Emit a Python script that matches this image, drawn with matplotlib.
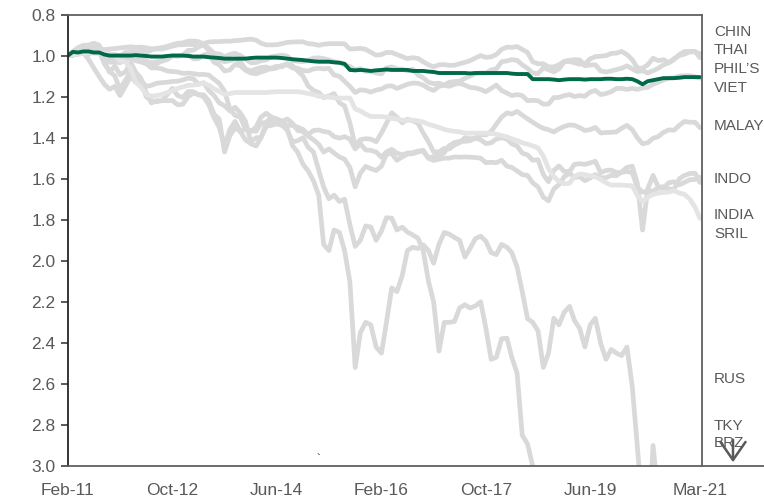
# Valutor mot USD, index Feb-11 = 1 (inverterad skala: nedåt = försvagning)
import matplotlib
matplotlib.use("Agg")
import matplotlib.pyplot as plt
import matplotlib.dates as mdates
import matplotlib.transforms as mtransforms
from matplotlib.lines import Line2D
import pandas as pd

plt.rcParams['font.family'] = ['Liberation Sans', 'DejaVu Sans']

# månadsdata Feb-11 .. Mar-21
dates = pd.date_range("2011-02-01", "2021-03-01", freq="MS")

# en rad per kalenderår (2011 börjar i feb, 2021 slutar i mars)
chin = [1.000, 0.997, 0.994, 0.988, 0.985, 0.982, 0.975, 0.971, 0.968, 0.966, 0.963,
        0.960, 0.957, 0.960, 0.959, 0.962, 0.967, 0.968, 0.968, 0.962, 0.954, 0.948, 0.947,
        0.945, 0.947, 0.944, 0.941, 0.934, 0.932, 0.932, 0.930, 0.930, 0.927, 0.926, 0.922,
        0.920, 0.925, 0.940, 0.948, 0.948, 0.947, 0.942, 0.936, 0.934, 0.933, 0.933, 0.942,
        0.944, 0.950, 0.945, 0.942, 0.942, 0.942, 0.943, 0.968, 0.967, 0.965, 0.970, 0.984,
        0.998, 0.995, 0.985, 0.985, 0.995, 1.005, 1.015, 1.010, 1.014, 1.030, 1.045, 1.055,
        1.045, 1.044, 1.048, 1.047, 1.040, 1.033, 1.025, 1.012, 1.000, 1.009, 1.006, 0.995,
        0.970, 0.959, 0.960, 0.956, 0.970, 0.985, 1.030, 1.040, 1.040, 1.055, 1.055, 1.045,
        1.028, 1.023, 1.020, 1.021, 1.050, 1.046, 1.045, 1.075, 1.080, 1.075, 1.068, 1.062,
        1.050, 1.065, 1.078, 1.074, 1.085, 1.074, 1.062, 1.045, 1.035, 1.015, 1.000, 0.993,
        0.982, 0.982, 0.991]
thai = [1.000, 0.990, 0.980, 0.990, 0.995, 0.975, 0.977, 1.005, 1.012, 1.010, 1.030,
        1.010, 1.000, 1.005, 1.007, 1.030, 1.035, 1.030, 1.028, 1.010, 1.003, 1.002, 0.998,
        0.975, 0.974, 0.958, 0.948, 0.975, 1.010, 1.020, 1.030, 1.025, 1.015, 1.030, 1.065,
        1.075, 1.065, 1.058, 1.056, 1.066, 1.060, 1.048, 1.045, 1.060, 1.062, 1.073, 1.075,
        1.065, 1.062, 1.065, 1.062, 1.095, 1.101, 1.125, 1.150, 1.180, 1.167, 1.170, 1.178,
        1.168, 1.163, 1.150, 1.147, 1.160, 1.150, 1.140, 1.134, 1.135, 1.144, 1.160, 1.170,
        1.150, 1.144, 1.130, 1.127, 1.125, 1.111, 1.100, 1.088, 1.085, 1.085, 1.070, 1.065,
        1.030, 1.026, 1.020, 1.023, 1.045, 1.062, 1.085, 1.088, 1.060, 1.069, 1.080, 1.065,
        1.030, 1.029, 1.035, 1.042, 1.040, 1.016, 1.005, 1.003, 1.000, 0.990, 0.988, 0.980,
        0.995, 1.020, 1.060, 1.062, 1.045, 1.013, 1.025, 1.020, 1.035, 1.020, 0.995, 0.980,
        0.980, 0.980, 1.010]
phil = [1.000, 0.995, 0.989, 0.985, 0.993, 0.975, 0.970, 0.985, 0.998, 0.995, 1.002,
        0.985, 0.979, 0.982, 0.977, 0.985, 0.973, 0.965, 0.961, 0.955, 0.947, 0.940, 0.938,
        0.930, 0.929, 0.932, 0.943, 0.965, 0.989, 0.992, 1.005, 0.995, 0.989, 1.000, 1.016,
        1.035, 1.034, 1.025, 1.021, 1.005, 1.002, 0.998, 1.002, 1.025, 1.027, 1.030, 1.023,
        1.012, 1.011, 1.015, 1.021, 1.030, 1.034, 1.045, 1.053, 1.070, 1.064, 1.077, 1.078,
        1.085, 1.089, 1.060, 1.055, 1.065, 1.066, 1.075, 1.066, 1.095, 1.108, 1.130, 1.137,
        1.135, 1.144, 1.150, 1.140, 1.135, 1.144, 1.155, 1.158, 1.165, 1.176, 1.160, 1.144,
        1.170, 1.183, 1.195, 1.190, 1.195, 1.220, 1.218, 1.220, 1.237, 1.236, 1.205, 1.204,
        1.195, 1.190, 1.200, 1.195, 1.198, 1.178, 1.170, 1.190, 1.185, 1.176, 1.160, 1.160,
        1.165, 1.160, 1.165, 1.158, 1.155, 1.140, 1.130, 1.119, 1.110, 1.108, 1.100, 1.098,
        1.098, 1.103, 1.110]
viet = [1.000, 0.982, 0.985, 0.980, 0.980, 0.985, 0.985, 0.995, 1.000, 1.000, 1.000,
        1.000, 1.000, 0.998, 1.000, 1.002, 1.005, 1.005, 1.005, 1.002, 1.000, 1.000, 1.000,
        1.002, 1.005, 1.005, 1.005, 1.008, 1.010, 1.012, 1.015, 1.015, 1.015, 1.015, 1.015,
        1.012, 1.010, 1.010, 1.010, 1.010, 1.010, 1.012, 1.015, 1.018, 1.020, 1.022, 1.025,
        1.028, 1.030, 1.030, 1.030, 1.033, 1.035, 1.040, 1.070, 1.072, 1.070, 1.072, 1.075,
        1.072, 1.070, 1.068, 1.070, 1.070, 1.070, 1.070, 1.075, 1.075, 1.075, 1.078, 1.080,
        1.085, 1.085, 1.085, 1.085, 1.085, 1.085, 1.087, 1.085, 1.085, 1.085, 1.085, 1.085,
        1.085, 1.085, 1.088, 1.090, 1.090, 1.090, 1.115, 1.115, 1.115, 1.115, 1.117, 1.120,
        1.117, 1.115, 1.115, 1.115, 1.117, 1.115, 1.115, 1.115, 1.113, 1.113, 1.115, 1.115,
        1.113, 1.115, 1.125, 1.140, 1.125, 1.120, 1.115, 1.110, 1.110, 1.110, 1.108, 1.105,
        1.105, 1.105, 1.105]
malay = [1.000, 0.993, 0.990, 0.985, 0.990, 0.980, 0.974, 1.020, 1.033, 1.030, 1.035,
         1.020, 0.990, 1.003, 1.003, 1.025, 1.039, 1.040, 1.026, 1.020, 1.000, 1.003, 1.000,
         0.995, 1.016, 1.015, 0.997, 0.990, 1.033, 1.045, 1.075, 1.070, 1.043, 1.050, 1.072,
         1.085, 1.089, 1.080, 1.072, 1.060, 1.052, 1.055, 1.039, 1.050, 1.075, 1.100, 1.148,
         1.170, 1.180, 1.205, 1.197, 1.185, 1.230, 1.245, 1.328, 1.440, 1.410, 1.405, 1.407,
         1.420, 1.377, 1.330, 1.279, 1.300, 1.328, 1.310, 1.318, 1.330, 1.377, 1.420, 1.469,
         1.470, 1.452, 1.455, 1.436, 1.425, 1.400, 1.405, 1.403, 1.385, 1.387, 1.370, 1.334,
         1.300, 1.279, 1.285, 1.272, 1.290, 1.308, 1.325, 1.341, 1.355, 1.361, 1.372, 1.357,
         1.345, 1.338, 1.340, 1.351, 1.365, 1.361, 1.350, 1.377, 1.375, 1.374, 1.372, 1.354,
         1.340, 1.361, 1.400, 1.430, 1.425, 1.403, 1.395, 1.374, 1.362, 1.364, 1.340, 1.321,
         1.325, 1.325, 1.351]
indo = [1.000, 0.985, 0.972, 0.965, 0.964, 0.960, 0.958, 0.975, 0.994, 1.010, 1.019,
        1.015, 1.011, 1.025, 1.031, 1.040, 1.060, 1.060, 1.065, 1.075, 1.078, 1.080, 1.087,
        1.085, 1.088, 1.092, 1.092, 1.095, 1.116, 1.135, 1.174, 1.260, 1.292, 1.300, 1.360,
        1.370, 1.348, 1.300, 1.281, 1.300, 1.331, 1.320, 1.309, 1.330, 1.365, 1.370, 1.393,
        1.410, 1.433, 1.470, 1.455, 1.475, 1.494, 1.505, 1.545, 1.640, 1.573, 1.540, 1.551,
        1.560, 1.539, 1.480, 1.478, 1.510, 1.494, 1.480, 1.478, 1.470, 1.461, 1.500, 1.511,
        1.505, 1.500, 1.500, 1.494, 1.495, 1.494, 1.495, 1.497, 1.500, 1.522, 1.520, 1.522,
        1.510, 1.539, 1.545, 1.562, 1.580, 1.584, 1.620, 1.640, 1.690, 1.708, 1.650, 1.629,
        1.590, 1.573, 1.595, 1.590, 1.610, 1.596, 1.580, 1.596, 1.595, 1.584, 1.585, 1.567,
        1.545, 1.539, 1.620, 1.850, 1.650, 1.584, 1.640, 1.640, 1.650, 1.652, 1.600, 1.584,
        1.575, 1.573, 1.618]
india = [1.000, 0.990, 0.976, 0.985, 0.982, 0.980, 0.978, 1.040, 1.075, 1.100, 1.165,
         1.120, 1.081, 1.110, 1.121, 1.180, 1.231, 1.220, 1.220, 1.190, 1.160, 1.195, 1.204,
         1.175, 1.176, 1.190, 1.191, 1.220, 1.286, 1.310, 1.470, 1.390, 1.352, 1.370, 1.360,
         1.365, 1.369, 1.330, 1.325, 1.300, 1.308, 1.320, 1.341, 1.340, 1.349, 1.360, 1.385,
         1.365, 1.363, 1.370, 1.374, 1.395, 1.402, 1.395, 1.407, 1.455, 1.429, 1.460, 1.462,
         1.470, 1.495, 1.470, 1.457, 1.475, 1.484, 1.475, 1.473, 1.465, 1.466, 1.500, 1.492,
         1.490, 1.473, 1.440, 1.424, 1.418, 1.418, 1.415, 1.402, 1.410, 1.429, 1.425, 1.407,
         1.400, 1.407, 1.430, 1.440, 1.475, 1.484, 1.510, 1.508, 1.580, 1.615, 1.560, 1.538,
         1.565, 1.565, 1.530, 1.527, 1.530, 1.523, 1.515, 1.571, 1.560, 1.558, 1.570, 1.569,
         1.565, 1.571, 1.640, 1.666, 1.660, 1.659, 1.645, 1.644, 1.620, 1.615, 1.630, 1.618,
         1.605, 1.604, 1.593]
sril = [1.000, 0.995, 0.991, 0.988, 0.986, 0.988, 0.991, 0.991, 0.991, 1.000, 1.027,
        1.030, 1.063, 1.130, 1.153, 1.190, 1.198, 1.195, 1.189, 1.180, 1.171, 1.160, 1.153,
        1.145, 1.144, 1.140, 1.135, 1.145, 1.162, 1.175, 1.189, 1.185, 1.180, 1.180, 1.180,
        1.180, 1.180, 1.180, 1.180, 1.178, 1.176, 1.176, 1.176, 1.176, 1.176, 1.180, 1.185,
        1.190, 1.198, 1.200, 1.203, 1.205, 1.207, 1.207, 1.207, 1.260, 1.270, 1.285, 1.297,
        1.297, 1.297, 1.300, 1.306, 1.310, 1.315, 1.315, 1.315, 1.318, 1.324, 1.335, 1.342,
        1.350, 1.360, 1.365, 1.369, 1.372, 1.378, 1.378, 1.378, 1.378, 1.378, 1.380, 1.383,
        1.390, 1.396, 1.405, 1.414, 1.425, 1.432, 1.440, 1.450, 1.490, 1.550, 1.590, 1.613,
        1.625, 1.622, 1.590, 1.577, 1.580, 1.586, 1.590, 1.604, 1.620, 1.631, 1.631, 1.631,
        1.633, 1.635, 1.680, 1.712, 1.690, 1.676, 1.670, 1.667, 1.665, 1.658, 1.670, 1.676,
        1.700, 1.739, 1.793]
tky = [1.000, 0.980, 0.962, 0.985, 1.019, 1.060, 1.101, 1.140, 1.164, 1.150, 1.195,
       1.150, 1.101, 1.130, 1.119, 1.150, 1.145, 1.135, 1.132, 1.130, 1.126, 1.125, 1.119,
       1.110, 1.113, 1.140, 1.132, 1.170, 1.195, 1.230, 1.245, 1.270, 1.252, 1.280, 1.321,
       1.420, 1.400, 1.400, 1.327, 1.315, 1.321, 1.335, 1.365, 1.420, 1.415, 1.400, 1.447,
       1.470, 1.560, 1.640, 1.698, 1.680, 1.711, 1.700, 1.824, 1.930, 1.900, 1.830, 1.836,
       1.900, 1.855, 1.790, 1.792, 1.850, 1.836, 1.860, 1.874, 1.890, 1.950, 2.100, 2.201,
       2.440, 2.300, 2.300, 2.296, 2.230, 2.214, 2.230, 2.220, 2.200, 2.327, 2.480, 2.470,
       2.380, 2.377, 2.470, 2.547, 2.850, 2.893, 3.000, 3.770, 3.900, 3.650, 3.400, 3.330,
       3.350, 3.300, 3.450, 3.580, 3.800, 3.650, 3.550, 3.520, 3.580, 3.680, 3.620, 3.710,
       3.740, 3.840, 4.000, 4.340, 4.400, 4.310, 4.300, 4.590, 4.750, 4.970, 5.000, 4.780,
       4.630, 4.470, 4.970]
brz = [1.000, 1.000, 0.961, 0.950, 0.949, 0.940, 0.949, 1.030, 1.081, 1.050, 1.093,
       1.080, 1.033, 1.080, 1.111, 1.200, 1.219, 1.225, 1.219, 1.220, 1.219, 1.240, 1.237,
       1.200, 1.183, 1.190, 1.201, 1.240, 1.303, 1.350, 1.441, 1.360, 1.321, 1.370, 1.411,
       1.430, 1.441, 1.400, 1.345, 1.340, 1.333, 1.340, 1.357, 1.440, 1.471, 1.530, 1.562,
       1.610, 1.682, 1.920, 1.950, 1.850, 1.862, 1.950, 2.102, 2.520, 2.350, 2.300, 2.312,
       2.420, 2.450, 2.300, 2.132, 2.150, 2.072, 1.950, 1.934, 1.940, 1.922, 1.950, 2.012,
       1.920, 1.862, 1.870, 1.886, 1.900, 1.982, 1.940, 1.892, 1.880, 1.904, 1.960, 1.970,
       1.920, 1.934, 1.960, 2.030, 2.150, 2.282, 2.300, 2.342, 2.520, 2.450, 2.280, 2.312,
       2.250, 2.222, 2.290, 2.330, 2.420, 2.312, 2.280, 2.402, 2.480, 2.432, 2.450, 2.462,
       2.420, 2.613, 2.900, 3.213, 3.400, 2.900, 3.150, 3.243, 3.300, 3.363, 3.300, 3.093,
       3.150, 3.273, 3.363]

gray_series = [chin, thai, phil, malay, indo, india, tky, brz]

labels = ["CHIN", "THAI", "PHIL\u2019S", "VIET", "MALAY", "INDO", "INDIA", "SRIL", "RUS", "TKY", "BRZ"]
label_y = [0.885, 0.972, 1.064, 1.157, 1.345, 1.602, 1.777, 1.869, 2.574, 2.807, 2.89]

xtick_dates = ["2011-02-01", "2012-10-01", "2014-06-01", "2016-02-01", "2017-10-01", "2019-06-01", "2021-03-01"]

txt = '#595959'
fig = plt.figure(figsize=(7.64, 4.99), dpi=100)
ax = fig.add_axes([0.089, 0.0661, 0.8298, 0.9048])

for s in gray_series:
    ax.plot(dates, s, color='#d9d9d9', lw=3.4, solid_capstyle='round', solid_joinstyle='round')
ax.plot(dates, sril, color='#e4e4e4', lw=3.4, solid_capstyle='round', solid_joinstyle='round')
ax.plot(dates, viet, color='#00694a', lw=2.8, solid_capstyle='round')

ax.set_ylim(3.0, 0.8)
ax.set_yticks([0.8 + 0.2 * k for k in range(12)])
ax.yaxis.set_major_formatter(plt.FormatStrFormatter('%.1f'))
ax.set_xlim(pd.Timestamp("2011-02-01"), pd.Timestamp("2021-03-13"))
ax.set_xticks([pd.Timestamp(d) for d in xtick_dates])
ax.xaxis.set_major_formatter(mdates.DateFormatter('%b-%y'))

ax.tick_params(axis='y', length=5, width=1.2, color='#404040', labelsize=12.5, labelcolor=txt, pad=4)
ax.tick_params(axis='x', length=0, labelsize=12.5, labelcolor=txt, pad=12)

ax.spines['left'].set_color('#262626')
for side in ['top', 'right', 'bottom']:
    ax.spines[side].set_color('#606060')
for side in ax.spines:
    ax.spines[side].set_linewidth(1.3)

# bottenlinjen fortsätter till höger om diagrammet
fig.add_artist(Line2D([0.9188, 1.0], [0.0661, 0.0661], transform=fig.transFigure, color='#606060', lw=1.3))

trans = mtransforms.blended_transform_factory(ax.transAxes, ax.transData)
for lab, y in zip(labels, label_y):
    ax.text(1.019, y, lab, transform=trans, ha='left', va='center', fontsize=11, color=txt, clip_on=False)

# pil nedåt: TKY/BRZ utanför skalan
ax.annotate('', xy=(733 / 764, 1 - 465 / 499), xytext=(733 / 764, 1 - 437 / 499),
            xycoords='figure fraction', textcoords='figure fraction',
            arrowprops=dict(arrowstyle='->,head_length=0.65,head_width=0.45', mutation_scale=20,
                            color='#595959', lw=1.8))

fig.text(318 / 764, 1 - 459 / 499, '`', fontsize=8, color='black', ha='center', va='center')

fig.savefig("out.png", dpi=100)
